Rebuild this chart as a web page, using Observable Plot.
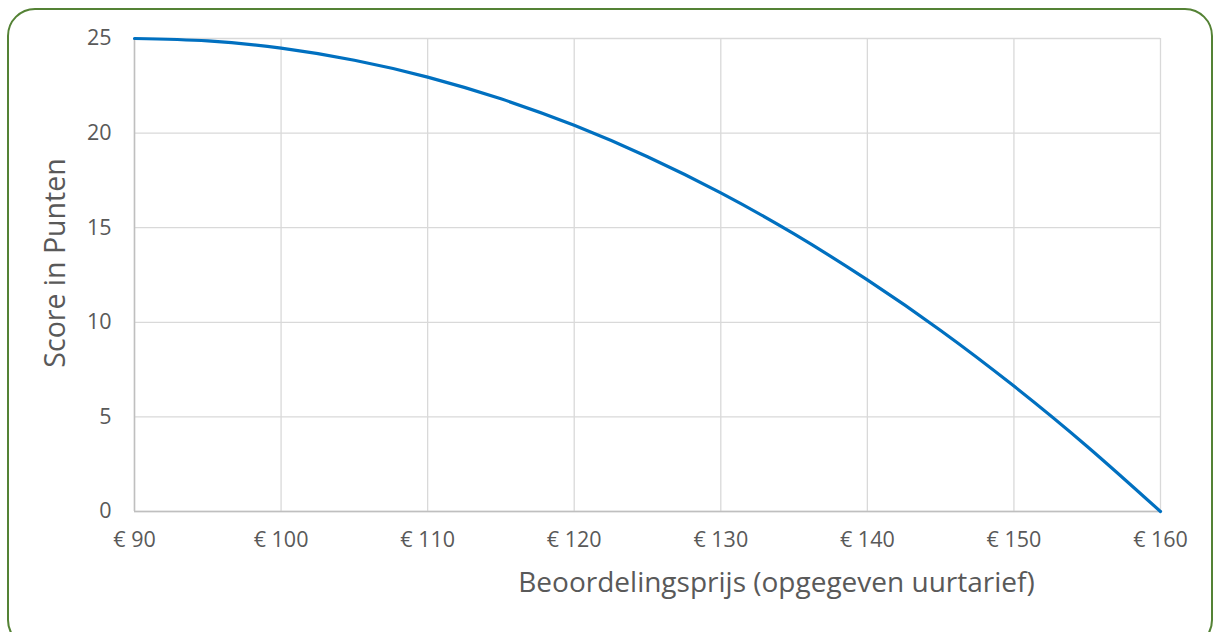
<!DOCTYPE html>
<html>
<head>
<meta charset="utf-8">
<script src="https://cdn.jsdelivr.net/npm/d3@7"></script>
<script src="https://cdn.jsdelivr.net/npm/@observablehq/plot@0.6"></script>
<style>
  html, body { margin: 0; padding: 0; background: #fff; overflow: hidden; }
  #wrap { position: relative; width: 1213px; height: 632px; overflow: hidden; }
  #frame { position: absolute; left: 7px; top: 8px; width: 1206px; height: 640px;
           border: 2px solid #548235; border-radius: 28px; box-sizing: border-box; }
  #chart { position: absolute; left: 0; top: 0; }
  #chart svg { font-family: "Open Sans", sans-serif; }
</style>
</head>
<body>
<div id="wrap"><div id="frame"></div><div id="chart"></div></div>
<script>
// Beoordelingsprijs (€) and score in punten
const prices = [90, 95, 100, 105, 110, 115, 120, 125, 130, 135, 140, 145, 150, 155, 160];
const scores = [25, 24.87, 24.49, 23.85, 22.96, 21.81, 20.41, 18.75, 16.84, 14.67, 12.24, 9.57, 6.63, 3.44, 0];
const xTicks = [90, 100, 110, 120, 130, 140, 150, 160];
const yTicks = [0, 5, 10, 15, 20, 25];
const xTitle = "Beoordelingsprijs (opgegeven uurtarief)";
const yTitle = "Score in Punten";

const data = prices.map((p, i) => ({price: p, score: scores[i]}));

const chart = Plot.plot({
  width: 1213,
  height: 632,
  marginLeft: 134,
  marginRight: 53,
  marginTop: 38,
  marginBottom: 121,
  x: {domain: [90, 160]},
  y: {domain: [0, 25]},
  marks: [
    Plot.gridY(yTicks, {stroke: "#d9d9d9", strokeOpacity: 1, strokeWidth: 1.3}),
    Plot.gridX(xTicks, {stroke: "#d9d9d9", strokeOpacity: 1, strokeWidth: 1.3}),
    Plot.ruleX([90], {stroke: "#bfbfbf", strokeWidth: 1.5}),
    Plot.ruleY([0], {stroke: "#bfbfbf", strokeWidth: 1.5}),
    Plot.axisY(yTicks, {tickSize: 0, tickPadding: 23, fontSize: 21.5, color: "#595959", label: null}),
    Plot.axisX(xTicks, {tickSize: 0, tickPadding: 20, fontSize: 21.5, color: "#595959",
      tickFormat: d => "€ " + d, label: null}),
    Plot.line(data, {x: "price", y: "score", stroke: "#0070C0", strokeWidth: 3.2, curve: "natural"}),
    Plot.text([xTitle], {frameAnchor: "bottom", dx: 129, dy: 72, lineAnchor: "middle",
      fontSize: 28, fill: "#595959"}),
    Plot.text([yTitle], {frameAnchor: "left", rotate: -90, dx: -79, dy: -12, lineAnchor: "middle",
      textAnchor: "middle", fontSize: 28.5, fill: "#595959"})
  ]
});
document.getElementById("chart").appendChild(chart);
</script>
</body>
</html>
